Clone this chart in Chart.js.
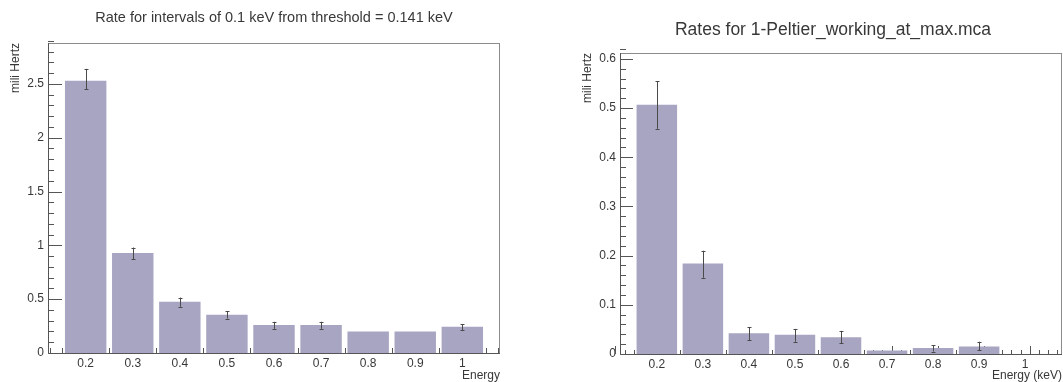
<!DOCTYPE html>
<html>
<head>
<meta charset="utf-8">
<script src="https://cdn.jsdelivr.net/npm/chart.js"></script>
<style>
body{margin:0;background:#fff;width:1063px;height:382px;position:relative;overflow:hidden}
canvas{position:absolute;top:0}
#rateLeft{left:0}
#rateRight{left:560px}
</style>
</head>
<body>
<canvas id="rateLeft" width="545" height="382"></canvas>
<canvas id="rateRight" width="503" height="382"></canvas>
<script>
// energy bins (keV), also the tick labels
var energies = [0.2, 0.3, 0.4, 0.5, 0.6, 0.7, 0.8, 0.9, 1.0];

// left plot: rate per 0.1 keV interval (mili Hertz)
var leftRates   = [2.53, 0.93, 0.475, 0.355, 0.26, 0.26, 0.20, 0.20, 0.245];
var leftErrLow  = [2.45, 0.87, 0.43, 0.32, 0.225, 0.225, null, null, 0.21];
var leftErrHigh = [2.64, 0.98, 0.515, 0.39, 0.29, 0.29, null, null, 0.27];

// right plot: 1-Peltier_working_at_max.mca
var rightRates   = [0.507, 0.184, 0.042, 0.039, 0.034, 0.007, 0.012, 0.015, 0];
var rightErrLow  = [0.458, 0.155, 0.028, 0.025, 0.022, null, 0.005, 0.008, null];
var rightErrHigh = [0.555, 0.21, 0.055, 0.051, 0.047, null, 0.018, 0.025, null];

var FONT = "'Liberation Sans', Arial, sans-serif";
var TEXT = '#383838';
var BAR = '#a8a5c2';

function fmt(v) { return String(+Number(v).toFixed(3)); }

// ROOT-like frame: inside ticks, box, error bars, title
var rootFrame = {
  id: 'rootFrame',
  beforeDatasetsDraw: function (chart, args, o) {
    var ctx = chart.ctx, a = chart.chartArea, x = chart.scales.x, y = chart.scales.y;
    ctx.save();
    ctx.strokeStyle = '#555';
    ctx.lineWidth = 1;
    ctx.beginPath();
    var n = Math.round((y.max - y.min) / o.yMinor);
    for (var i = 0; i <= n; i++) {
      var v = y.min + i * o.yMinor;
      var py = Math.round(y.getPixelForValue(v)) + 0.5;
      var len = (i % o.yEvery === 0) ? o.yMajorLen : o.yMinorLen;
      ctx.moveTo(a.left, py);
      ctx.lineTo(a.left + len, py);
    }
    var m = Math.floor((x.max - o.xStart) / o.xMinor + 1e-6);
    for (var j = 0; j <= m; j++) {
      var px = Math.round(x.getPixelForValue(o.xStart + j * o.xMinor)) + 0.5;
      var l = (j % o.xEvery === 0) ? o.xMajorLen : o.xMinorLen;
      ctx.moveTo(px, a.bottom);
      ctx.lineTo(px, a.bottom - l);
    }
    ctx.stroke();
    ctx.restore();
  },
  afterDatasetsDraw: function (chart, args, o) {
    var ctx = chart.ctx, a = chart.chartArea, x = chart.scales.x, y = chart.scales.y;
    var ds = chart.data.datasets[0];
    ctx.save();
    // error bars
    ctx.strokeStyle = '#4a4a4a';
    ctx.lineWidth = 1;
    ctx.beginPath();
    ds.data.forEach(function (p, i) {
      if (ds.errLow[i] == null) return;
      var px = Math.round(x.getPixelForValue(p.x)) + 0.5;
      var y0 = y.getPixelForValue(ds.errLow[i]);
      var y1 = y.getPixelForValue(ds.errHigh[i]);
      ctx.moveTo(px, y0); ctx.lineTo(px, y1);
      ctx.moveTo(px - 2, Math.round(y1) + 0.5); ctx.lineTo(px + 2, Math.round(y1) + 0.5);
      ctx.moveTo(px - 2, Math.round(y0) + 0.5); ctx.lineTo(px + 2, Math.round(y0) + 0.5);
    });
    ctx.stroke();
    // frame
    ctx.strokeStyle = '#8c8c8c';
    ctx.strokeRect(Math.round(a.left) + 0.5, Math.round(a.top) + 0.5,
      Math.round(a.right - a.left) - 1, Math.round(a.bottom - a.top));
    ctx.strokeStyle = '#555';
    ctx.beginPath();
    ctx.moveTo(Math.round(a.left) + 0.5, a.top);
    ctx.lineTo(Math.round(a.left) + 0.5, Math.round(a.bottom) + 0.5);
    ctx.lineTo(a.right, Math.round(a.bottom) + 0.5);
    ctx.stroke();
    // title
    ctx.fillStyle = TEXT;
    ctx.font = o.titleSize + 'px ' + FONT;
    ctx.textAlign = 'center';
    ctx.textBaseline = 'middle';
    ctx.fillText(o.title, o.titleX, o.titleY);
    ctx.restore();
  }
};

function makeChart(id, rates, lo, hi, s) {
  return new Chart(id, {
    type: 'bar',
    data: {
      datasets: [{
        data: energies.map(function (e, i) { return {x: e, y: rates[i]}; }),
        errLow: lo,
        errHigh: hi,
        backgroundColor: BAR,
        borderWidth: 0,
        categoryPercentage: 1,
        barPercentage: 0.88
      }]
    },
    options: {
      responsive: false,
      animation: false,
      layout: {padding: {left: 0, right: s.padRight, top: s.padTop, bottom: 0}},
      plugins: {
        legend: {display: false},
        tooltip: {enabled: false},
        rootFrame: s.frame
      },
      scales: {
        x: {
          type: 'linear',
          min: 0.12, max: 1.08,
          offset: false,
          grid: {display: false, drawTicks: false},
          border: {display: false},
          afterBuildTicks: function (sc) { sc.ticks = energies.map(function (v) { return {value: v}; }); },
          afterFit: function (sc) { sc.height = s.xHeight; },
          ticks: {callback: fmt, font: {family: FONT, size: 12}, color: TEXT, padding: 3, maxRotation: 0, autoSkip: false},
          title: {display: true, text: s.xTitle, align: 'end', color: TEXT,
                  font: {family: FONT, size: 12, lineHeight: 1}, padding: {top: 0, bottom: 0}}
        },
        y: {
          min: 0, max: s.yMax,
          grid: {display: false, drawTicks: false},
          border: {display: false},
          afterFit: function (sc) { sc.width = s.yWidth; },
          ticks: {stepSize: s.yStep, includeBounds: false, callback: fmt,
                  font: {family: FONT, size: 12}, color: TEXT, padding: 4},
          title: {display: true, text: 'mili Hertz', align: 'end', color: TEXT,
                  font: {family: FONT, size: 12}, padding: {top: s.yTitlePad, bottom: 0}}
        }
      }
    },
    plugins: [rootFrame]
  });
}

makeChart('rateLeft', leftRates, leftErrLow, leftErrHigh, {
  padRight: 45, padTop: 43, xHeight: 29, yWidth: 48, yMax: 2.88, yStep: 0.5, yTitlePad: 8,
  xTitle: 'Energy',
  frame: {title: 'Rate for intervals of 0.1 keV from threshold = 0.141 keV', titleSize: 14.5, titleX: 274, titleY: 18,
          yMinor: 0.1, yEvery: 5, yMajorLen: 14, yMinorLen: 6,
          xStart: 0.125, xMinor: 0.025, xEvery: 1, xMajorLen: 5, xMinorLen: 5}
});

makeChart('rateRight', rightRates, rightErrLow, rightErrHigh, {
  padRight: 1, padTop: 53, xHeight: 28, yWidth: 60, yMax: 0.612, yStep: 0.1, yTitlePad: 20,
  xTitle: 'Energy (keV)',
  frame: {title: 'Rates for 1-Peltier_working_at_max.mca', titleSize: 17.5, titleX: 273, titleY: 30,
          yMinor: 0.02, yEvery: 5, yMajorLen: 13, yMinorLen: 6,
          xStart: 0.11, xMinor: 0.02, xEvery: 5, xMajorLen: 8, xMinorLen: 4}
});
</script>
</body>
</html>
